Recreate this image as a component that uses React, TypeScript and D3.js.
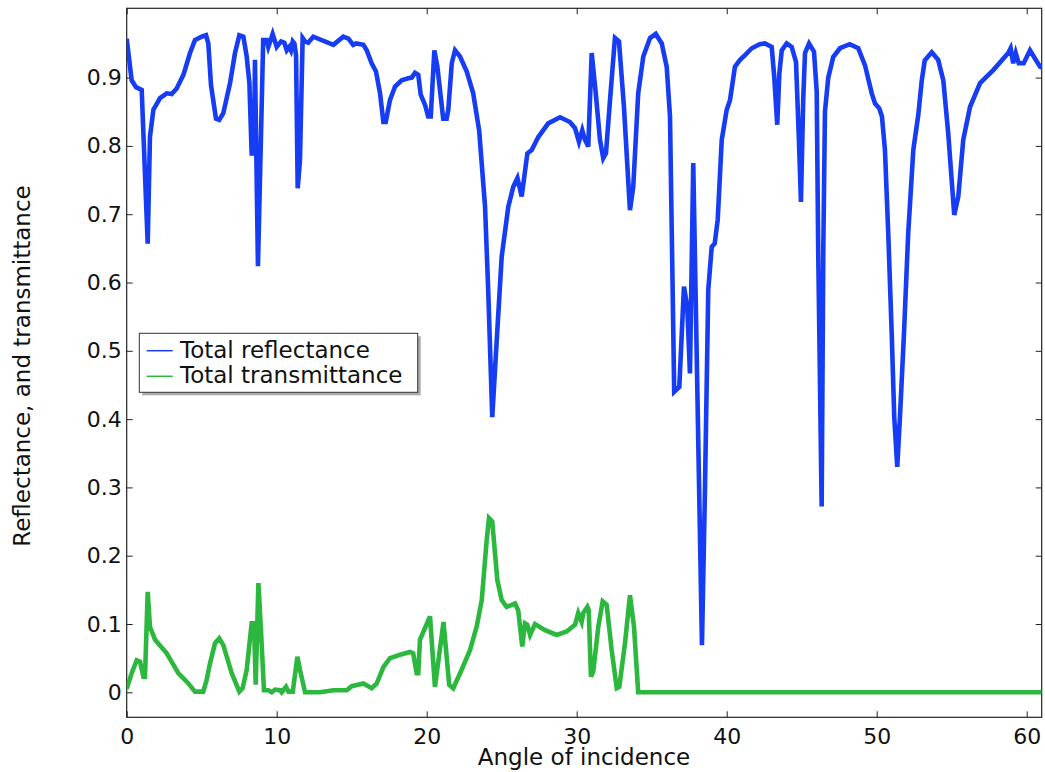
import { FunctionComponent, useRef, useEffect } from "react";
import * as d3 from "d3";

// angle of incidence (deg) and total reflectance
const reflAngle = [
    0, 0.33, 0.62, 1.0, 1.4, 1.55, 1.78, 2.22, 2.67, 3.0, 3.33, 3.78, 4.22, 4.55, 5.0, 5.29, 5.44, 5.62, 5.95, 6.17,
    6.44, 6.89, 7.22, 7.51, 7.78, 8.0, 8.18, 8.33, 8.49, 8.55, 8.75, 9.1, 9.33, 9.44, 9.73, 10.0, 10.29, 10.51, 10.67, 10.84,
    10.95, 11.07, 11.18, 11.29, 11.4, 11.55, 11.73, 11.89, 12.1, 12.44, 13.78, 14.44, 14.78, 15.1, 15.3, 15.78, 16.0, 16.33, 16.62, 16.89,
    17.11, 17.27, 17.55, 17.89, 18.33, 18.77, 19.0, 19.22, 19.44, 19.6, 19.89, 20.1, 20.27, 20.51, 20.71, 21.1, 21.33, 21.44, 21.67, 21.89,
    22.22, 22.67, 23.1, 23.5, 23.89, 24.1, 24.37, 24.67, 25.0, 25.44, 25.77, 26.05, 26.33, 26.71, 27.0, 27.44, 28.1, 28.89,
    29.55, 29.89, 30.15, 30.37, 30.55, 30.77, 31.0, 31.27, 31.55, 31.77, 31.95, 32.22, 32.55, 32.82, 33.15, 33.55, 33.77, 34.1, 34.44, 34.89,
    35.27, 35.67, 36.0, 36.22, 36.5, 36.84, 37.15, 37.37, 37.55, 37.77, 38.35, 38.55, 38.77, 39.0, 39.2, 39.4, 39.67, 40.0, 40.22, 40.55,
    40.89, 41.22, 41.67, 42.2, 42.55, 43.0, 43.17, 43.37, 43.51, 43.67, 44.0, 44.33, 44.62, 44.8, 44.95, 45.1, 45.22, 45.49, 45.82, 46.0,
    46.1, 46.33, 46.44, 46.55, 46.77, 47.1, 47.55, 48.2, 48.77, 49.22, 49.67, 49.89, 50.17, 50.35, 50.55, 50.77, 51.0, 51.17, 51.37, 51.55,
    51.82, 52.1, 52.44, 52.77, 53.0, 53.2, 53.67, 54.1, 54.44, 54.77, 55.17, 55.44, 55.77, 56.22, 56.89, 57.77, 58.77, 58.93, 59.1, 59.27,
    59.47, 59.8, 60.22, 60.55, 60.89, 61.0
];
const reflValue = [
    0.957, 0.896, 0.886, 0.882, 0.657, 0.813, 0.853, 0.870, 0.877, 0.876, 0.884, 0.904, 0.936, 0.955, 0.960, 0.962, 0.950, 0.889, 0.840, 0.838,
    0.848, 0.892, 0.936, 0.962, 0.960, 0.931, 0.892, 0.789, 0.789, 0.926, 0.624, 0.955, 0.955, 0.945, 0.964, 0.945, 0.953, 0.951, 0.940, 0.945,
    0.940, 0.953, 0.950, 0.933, 0.738, 0.779, 0.958, 0.953, 0.951, 0.960, 0.948, 0.960, 0.957, 0.948, 0.950, 0.948, 0.940, 0.921, 0.909, 0.877,
    0.835, 0.835, 0.867, 0.887, 0.896, 0.899, 0.900, 0.907, 0.904, 0.875, 0.860, 0.843, 0.843, 0.940, 0.916, 0.840, 0.840, 0.853, 0.921, 0.940,
    0.931, 0.909, 0.877, 0.822, 0.711, 0.589, 0.403, 0.516, 0.638, 0.711, 0.740, 0.753, 0.726, 0.789, 0.794, 0.813, 0.833, 0.842,
    0.835, 0.826, 0.806, 0.823, 0.809, 0.799, 0.936, 0.877, 0.809, 0.782, 0.789, 0.867, 0.958, 0.953, 0.857, 0.706, 0.740, 0.877, 0.931, 0.958,
    0.964, 0.950, 0.916, 0.843, 0.440, 0.447, 0.594, 0.565, 0.467, 0.775, 0.069, 0.296, 0.589, 0.652, 0.657, 0.692, 0.809, 0.853, 0.867, 0.916,
    0.926, 0.933, 0.943, 0.949, 0.950, 0.945, 0.901, 0.831, 0.906, 0.940, 0.950, 0.945, 0.923, 0.818, 0.718, 0.867, 0.936, 0.950, 0.938, 0.880,
    0.648, 0.272, 0.648, 0.850, 0.900, 0.930, 0.943, 0.949, 0.943, 0.918, 0.877, 0.862, 0.855, 0.843, 0.794, 0.672, 0.526, 0.403, 0.330, 0.403,
    0.526, 0.672, 0.794, 0.845, 0.895, 0.925, 0.937, 0.926, 0.896, 0.818, 0.699, 0.726, 0.809, 0.857, 0.892, 0.911, 0.936, 0.943, 0.921, 0.936,
    0.921, 0.921, 0.940, 0.928, 0.916, 0.915
];

// angle of incidence (deg) and total transmittance
const transAngle = [
    0, 0.33, 0.67, 0.89, 1.11, 1.22, 1.4, 1.55, 1.89, 2.67, 3.44, 4.11, 4.55, 5.1, 5.33, 5.55, 5.89, 6.17, 6.44, 7.0,
    7.51, 7.73, 8.0, 8.33, 8.49, 8.6, 8.78, 8.95, 9.15, 9.44, 9.67, 9.89, 10.22, 10.33, 10.62, 10.78, 11.07, 11.38, 11.55, 11.89,
    12.89, 13.78, 14.67, 15.0, 15.78, 16.33, 16.67, 17.11, 17.55, 18.22, 18.89, 19.1, 19.33, 19.44, 19.55, 20.22, 20.55, 21.12, 21.5, 21.77,
    22.33, 22.89, 23.33, 23.67, 24.0, 24.15, 24.37, 24.71, 25.0, 25.33, 25.89, 26.1, 26.37, 26.55, 26.71, 26.89, 27.22, 27.89, 28.67, 29.33,
    29.89, 30.1, 30.33, 30.44, 30.71, 30.8, 30.95, 31.1, 31.44, 31.73, 32.0, 32.33, 32.67, 32.84, 33.22, 33.55, 33.82, 34.1, 61.0
];
const transValue = [
    0.005, 0.028, 0.047, 0.045, 0.023, 0.023, 0.147, 0.096, 0.077, 0.057, 0.028, 0.013, 0.001, 0.001, 0.018, 0.042, 0.072, 0.079, 0.069, 0.028,
    0.001, 0.006, 0.033, 0.101, 0.101, 0.011, 0.160, 0.091, 0.003, 0.003, 0.0, 0.004, 0.003, 0.0, 0.008, 0.001, 0.001, 0.052, 0.033, 0.0,
    0.0, 0.003, 0.003, 0.009, 0.013, 0.006, 0.013, 0.037, 0.050, 0.055, 0.059, 0.057, 0.028, 0.028, 0.077, 0.111, 0.008, 0.103, 0.011, 0.006,
    0.033, 0.062, 0.096, 0.135, 0.223, 0.255, 0.250, 0.164, 0.135, 0.125, 0.130, 0.120, 0.067, 0.101, 0.099, 0.084, 0.100, 0.091, 0.084, 0.089,
    0.099, 0.116, 0.103, 0.116, 0.125, 0.120, 0.023, 0.030, 0.096, 0.133, 0.128, 0.062, 0.006, 0.008, 0.072, 0.142, 0.096, 0.0, 0.0
];

const xTicks = [0, 10, 20, 30, 40, 50, 60];
const yTicks = [0, 0.1, 0.2, 0.3, 0.4, 0.5, 0.6, 0.7, 0.8, 0.9];

const seriesNames = ["Total reflectance", "Total transmittance"];
const seriesColors = ["#163cf4", "#2cb83e"];

const W = 1045;
const H = 772;
const margin = { left: 126.7, right: W - 1041.7, top: 8.3, bottom: H - 717.3 };
const FONT = "DejaVu Sans, sans-serif";

const Chart: FunctionComponent = () => {
    const container = useRef<SVGSVGElement>(null);

    useEffect(draw, []);

    function draw() {
        if (!container.current) return;
        const svg = d3.select(container.current);
        svg.selectAll("*").remove();

        const iw = W - margin.left - margin.right;
        const ih = H - margin.top - margin.bottom;

        const x = d3.scaleLinear().domain([0, 61]).range([0, iw]);
        const y = d3.scaleLinear().domain([-0.0366, 1.0015]).range([ih, 0]);

        const g = svg.append("g").attr("transform", `translate(${margin.left},${margin.top})`);

        g.append("defs").append("clipPath").attr("id", "plotclip")
            .append("rect").attr("width", iw).attr("height", ih);

        const fmt = (d: d3.NumberValue) => (+d === 0 ? "0" : d3.format(".1f")(d));

        const bottom = g.append("g").attr("transform", `translate(0,${ih})`)
            .call(d3.axisBottom(x).tickValues(xTicks).tickSizeInner(-6).tickSizeOuter(0).tickPadding(11).tickFormat(d3.format("d")));
        const left = g.append("g")
            .call(d3.axisLeft(y).tickValues(yTicks).tickSizeInner(-6).tickSizeOuter(0).tickPadding(5).tickFormat(fmt));
        const top = g.append("g")
            .call(d3.axisTop(x).tickValues(xTicks).tickSizeInner(-6).tickSizeOuter(0).tickFormat(() => ""));
        const right = g.append("g").attr("transform", `translate(${iw},0)`)
            .call(d3.axisRight(y).tickValues(yTicks).tickSizeInner(-6).tickSizeOuter(0).tickFormat(() => ""));

        [bottom, left, top, right].forEach(a => {
            a.select(".domain").remove();
            a.selectAll("line").attr("stroke", "#222").attr("stroke-width", 1);
            a.selectAll("text").attr("font-family", FONT).attr("font-size", 22).attr("fill", "#111");
        });

        g.append("rect").attr("width", iw).attr("height", ih)
            .attr("fill", "none").attr("stroke", "#222").attr("stroke-width", 1.2);

        const line = d3.line<[number, number]>()
            .x(d => x(d[0]))
            .y(d => y(d[1]));

        const refl: [number, number][] = reflAngle.map((a, i) => [a, reflValue[i]]);
        const trans: [number, number][] = transAngle.map((a, i) => [a, transValue[i]]);

        const plot = g.append("g").attr("clip-path", "url(#plotclip)");
        [refl, trans].forEach((d, i) => {
            plot.append("path")
                .datum(d)
                .attr("d", line)
                .attr("fill", "none")
                .attr("stroke", seriesColors[i])
                .attr("stroke-width", 4.6);
        });

        // legend
        const lg = g.append("g").attr("transform", `translate(${139.3 - margin.left},${333.3 - margin.top})`);
        lg.append("rect").attr("x", 3).attr("y", 3).attr("width", 278.4).attr("height", 59)
            .attr("fill", "#aaa");
        lg.append("rect").attr("width", 278.4).attr("height", 59)
            .attr("fill", "white").attr("stroke", "#333").attr("stroke-width", 1);
        seriesNames.forEach((name, i) => {
            const cy = 17.4 + i * 25.6;
            lg.append("line").attr("x1", 7.4).attr("x2", 33.4).attr("y1", cy).attr("y2", cy)
                .attr("stroke", seriesColors[i]).attr("stroke-width", 1.5);
            lg.append("text").attr("x", 40.7).attr("y", cy + 7)
                .attr("font-family", FONT).attr("font-size", 23).attr("fill", "#111")
                .text(name);
        });

        svg.append("text")
            .attr("x", 584).attr("y", 765)
            .attr("text-anchor", "middle")
            .attr("font-family", FONT).attr("font-size", 23).attr("fill", "#111")
            .text("Angle of incidence");

        svg.append("text")
            .attr("transform", `translate(30,366) rotate(-90)`)
            .attr("text-anchor", "middle")
            .attr("font-family", FONT).attr("font-size", 23).attr("fill", "#111")
            .text("Reflectance, and transmittance");
    }

    return (
        <svg ref={container} width={W} height={H}
            style={{ position: "absolute", left: 0, top: 0, background: "white" }} />
    );
};

export default function App() {
    return <Chart />;
}
